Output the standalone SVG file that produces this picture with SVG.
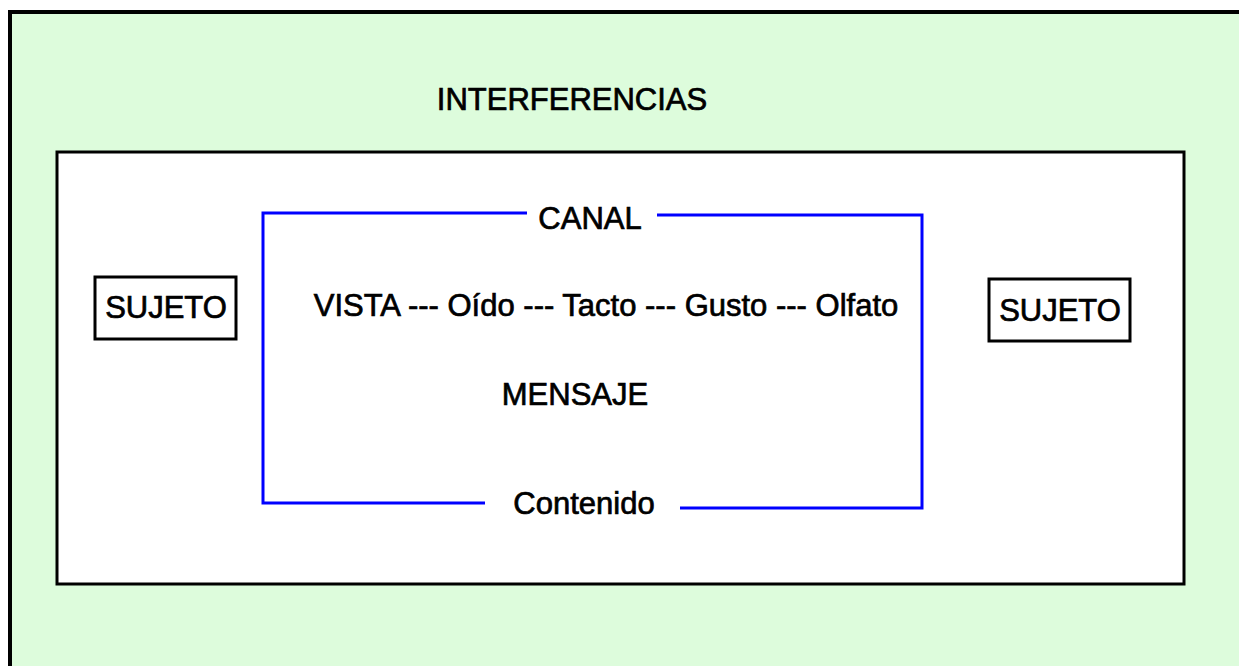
<svg xmlns="http://www.w3.org/2000/svg" width="1239" height="666" viewBox="0 0 1239 666">
<style>
text{font-family:"Liberation Sans",Arial,sans-serif;font-size:31px;fill:#000;stroke:#000;stroke-width:0.7;text-anchor:middle}
.box{fill:#fff;stroke:#000;stroke-width:3}
.ch{fill:none;stroke:#0000ff;stroke-width:3}
</style>
<rect width="1239" height="666" fill="#fff"/>
<g id="interferencias">
<rect x="10" y="12" width="1260" height="700" fill="#ddfcdc" stroke="#000" stroke-width="4"/>
<text x="572" y="110">INTERFERENCIAS</text>
</g>
<g id="mensaje-area">
<rect class="box" x="57" y="152" width="1127" height="432"/>
</g>
<g id="connectors">
<polyline class="ch" points="527,213 263,213 263,503 485,503"/>
<polyline class="ch" points="657,215 922,215 922,508 680,508"/>
</g>
<g id="canal"><text x="590" y="229">CANAL</text></g>
<g id="sentidos"><text x="606" y="316">VISTA --- Oído --- Tacto --- Gusto --- Olfato</text></g>
<g id="mensaje"><text x="575" y="405">MENSAJE</text></g>
<g id="contenido"><text x="584" y="514">Contenido</text></g>
<g id="sujeto-izq">
<rect class="box" x="95" y="277" width="141" height="62"/>
<text x="166" y="318">SUJETO</text>
</g>
<g id="sujeto-der">
<rect class="box" x="989" y="279" width="141" height="62"/>
<text x="1060" y="321">SUJETO</text>
</g>
</svg>
